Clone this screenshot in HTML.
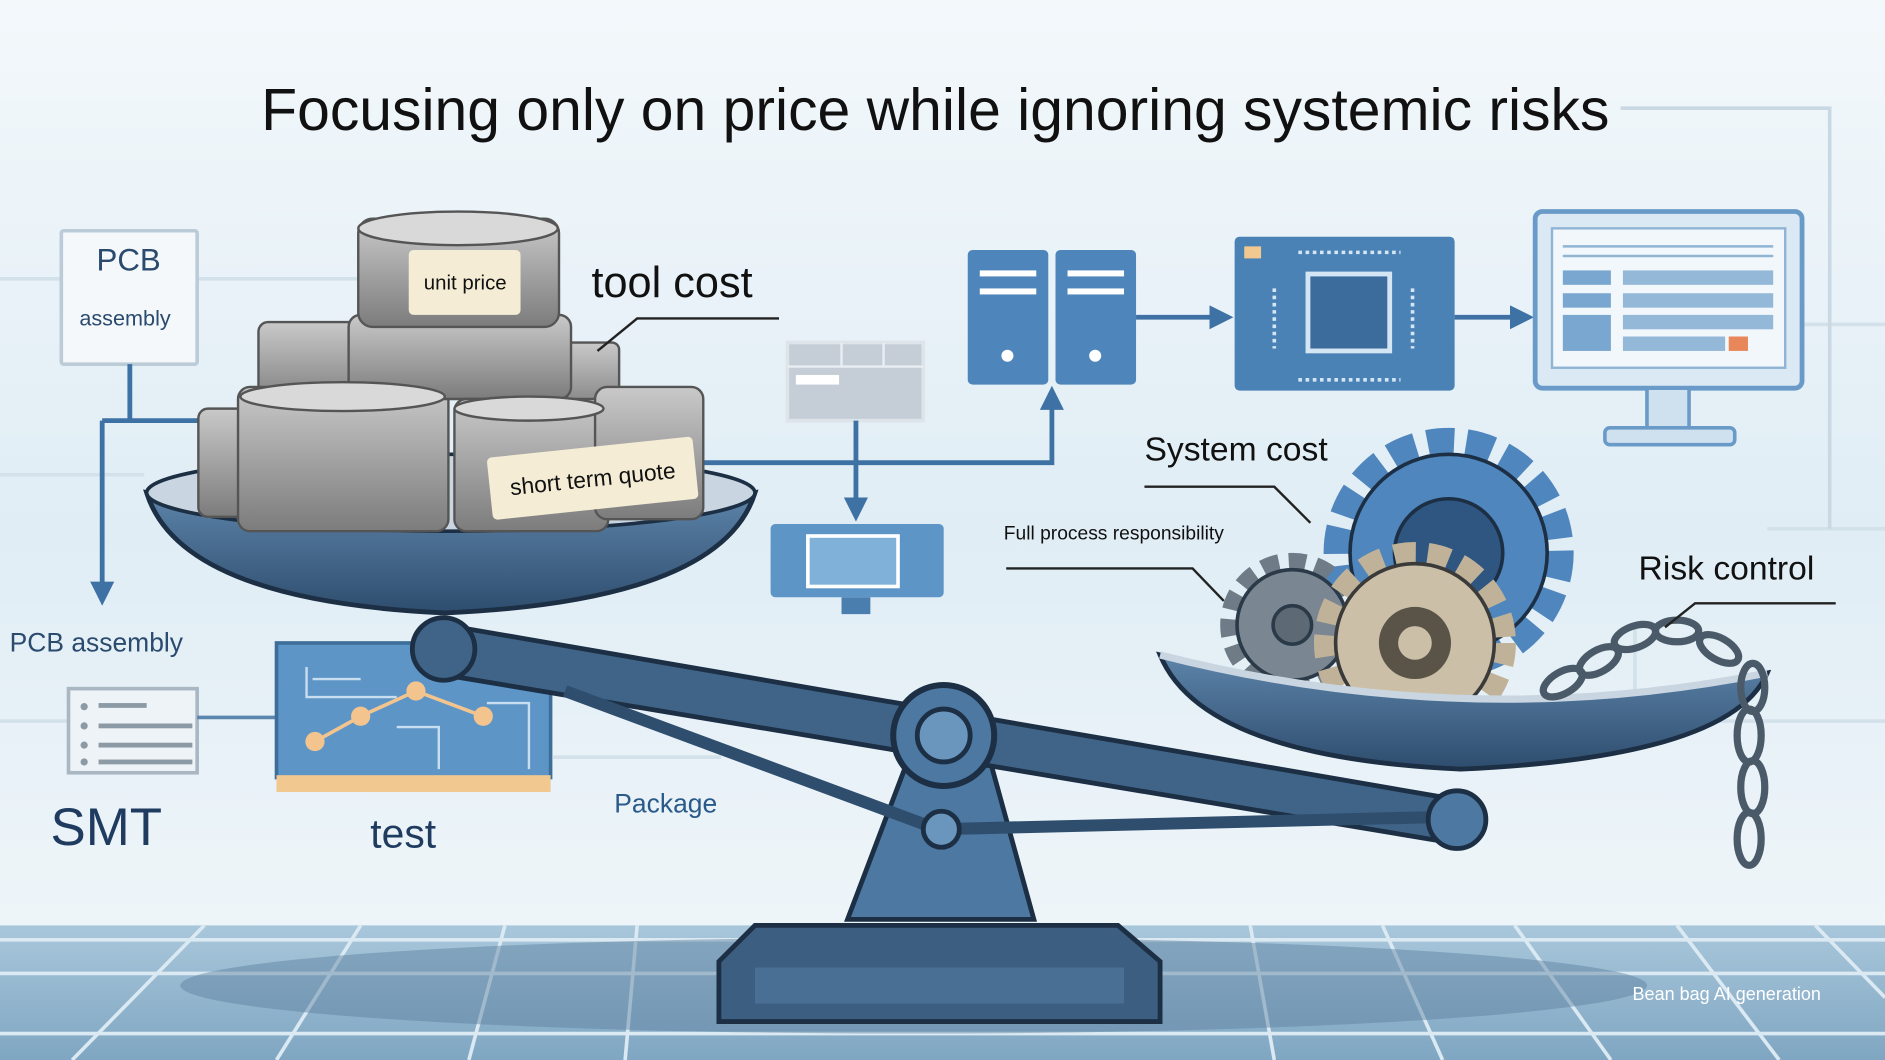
<!DOCTYPE html>
<html><head><meta charset="utf-8"><style>
html,body{margin:0;padding:0;width:1885px;height:1060px;overflow:hidden;background:#eaf3f8}
svg{display:block}
text{font-family:"Liberation Sans",sans-serif}
</style></head><body>
<svg width="1885" height="1060" viewBox="0 0 1568 882" preserveAspectRatio="none" xmlns="http://www.w3.org/2000/svg">
<defs>
<linearGradient id="bg" x1="0" y1="0" x2="0" y2="1">
<stop offset="0" stop-color="#f3f8fb"/><stop offset="0.5" stop-color="#e0edf5"/><stop offset="0.87" stop-color="#eef5f9"/></linearGradient>
<linearGradient id="floor" x1="0" y1="0" x2="0" y2="1">
<stop offset="0" stop-color="#a9c7db"/><stop offset="1" stop-color="#7fa6c2"/></linearGradient>
<linearGradient id="pan" x1="0" y1="0" x2="0" y2="1">
<stop offset="0" stop-color="#5d84aa"/><stop offset="1" stop-color="#2e4d6e"/></linearGradient>
<linearGradient id="blk" x1="0" y1="0" x2="0" y2="1">
<stop offset="0" stop-color="#c9c9c9"/><stop offset="1" stop-color="#7c7c7c"/></linearGradient>
<marker id="ar" viewBox="0 0 10 10" refX="8" refY="5" markerWidth="5" markerHeight="5" orient="auto"><path d="M0 0L10 5L0 10z" fill="#3f72a4"/></marker>
</defs>
<rect width="1568" height="882" fill="url(#bg)"/>
<g stroke="#d3e1ea" stroke-width="3" fill="none">
<path d="M0 232H50M164 232H300M0 395H120M1500 270H1568M1470 440H1568M0 600H60M460 630H600M1350 600H1568M1360 520V600"/>
</g>
<rect x="0" y="770" width="1568" height="112" fill="url(#floor)"/>
<g stroke="#dbe9f2" stroke-width="3">
<path d="M0 782H1568M0 810H1568M0 860H1568"/>
<path d="M170 770L60 882M300 770L230 882M420 770L390 882M530 770L520 882M1040 770L1060 882M1150 770L1200 882M1260 770L1340 882M1395 770L1480 882M1510 770L1568 830"/>
</g>
<ellipse cx="760" cy="820" rx="610" ry="40" fill="#5a7f9e" opacity="0.45"/>
<text x="778" y="108" font-size="49" text-anchor="middle" fill="#111">Focusing only on price while ignoring systemic risks</text>
<path d="M1348 90H1522V440" stroke="#c9d8e3" stroke-width="3" fill="none"/>
<rect x="51" y="192" width="113" height="111" fill="#f4f8fb" stroke="#bccbd8" stroke-width="3" rx="2"/>
<text x="107" y="225" font-size="26" text-anchor="middle" fill="#2a4a6e">PCB</text>
<text x="104" y="271" font-size="18" text-anchor="middle" fill="#2a4a6e">assembly</text>
<g stroke="#3f72a4" stroke-width="4" fill="none">
<path d="M108 303V350M85 350H168"/><path d="M85 350V500" marker-end="url(#ar)"/></g>
<text x="8" y="542" font-size="22" fill="#2a4a6e">PCB assembly</text>
<rect x="57" y="573" width="107" height="70" fill="#eef3f7" stroke="#a9b7c3" stroke-width="3"/>
<g fill="#8c9aa6"><circle cx="70" cy="588" r="3"/><circle cx="70" cy="604" r="3"/><circle cx="70" cy="620" r="3"/><circle cx="70" cy="634" r="3"/>
<rect x="82" y="585" width="40" height="4"/><rect x="82" y="602" width="78" height="4"/><rect x="82" y="618" width="78" height="4"/><rect x="82" y="632" width="78" height="4"/></g>
<path d="M164 597H232" stroke="#5b86ad" stroke-width="3"/>
<text x="42" y="703" font-size="44" fill="#1f3b5f">SMT</text>
<rect x="230" y="535" width="228" height="112" fill="#5d95c6" stroke="#3d6e9a" stroke-width="3"/>
<rect x="230" y="645" width="228" height="14" fill="#f1c890"/>
<g stroke="#c8def0" stroke-width="2" fill="none"><path d="M255 555V580H330M260 565H300M330 605H365V640M405 585H440V640"/></g>
<polyline points="262,617 300,596 346,575 402,596" stroke="#f3c48e" stroke-width="3" fill="none"/>
<g fill="#f3c48e"><circle cx="262" cy="617" r="8"/><circle cx="300" cy="596" r="8"/><circle cx="346" cy="575" r="8"/><circle cx="402" cy="596" r="8"/></g>
<text x="308" y="705" font-size="34" fill="#1f3b5f">test</text>
<text x="511" y="676" font-size="22" fill="#2a5a8a">Package</text>
<rect x="655" y="285" width="113" height="65" fill="#c5ced6" stroke="#dde4ea" stroke-width="3"/>
<path d="M655 305H768M700 285V305M735 285V305" stroke="#e8eef3" stroke-width="2"/>
<rect x="662" y="312" width="36" height="8" fill="#fff"/>
<path d="M712 350V430" stroke="#3f72a4" stroke-width="4" marker-end="url(#ar)"/>
<rect x="641" y="436" width="144" height="61" rx="4" fill="#5d95c6"/>
<rect x="672" y="446" width="75" height="42" fill="#7fb1d9" stroke="#fff" stroke-width="3"/>
<rect x="700" y="497" width="24" height="14" fill="#4a7eae"/>
<path d="M585 385H875V325" stroke="#3f72a4" stroke-width="4" fill="none" marker-end="url(#ar)"/>
<rect x="805" y="208" width="67" height="112" rx="4" fill="#4e86bb"/><rect x="878" y="208" width="67" height="112" rx="4" fill="#4e86bb"/>
<g fill="#fff"><rect x="815" y="225" width="47" height="5"/><rect x="815" y="240" width="47" height="5"/><rect x="888" y="225" width="47" height="5"/><rect x="888" y="240" width="47" height="5"/><circle cx="838" cy="296" r="5"/><circle cx="911" cy="296" r="5"/></g>
<path d="M945 264H1022" stroke="#3f72a4" stroke-width="4" marker-end="url(#ar)"/>
<rect x="1027" y="197" width="183" height="128" rx="4" fill="#4a82b6"/>
<rect x="1088" y="228" width="68" height="64" fill="#3c6c9b" stroke="#d4e5f3" stroke-width="4"/>
<g stroke="#d4e5f3" stroke-width="3"><path d="M1080 210H1165M1080 316H1165M1060 240V290M1175 240V290" stroke-dasharray="3 3"/></g>
<rect x="1035" y="205" width="14" height="10" fill="#f1c890"/>
<path d="M1210 264H1272" stroke="#3f72a4" stroke-width="4" marker-end="url(#ar)"/>
<rect x="1277" y="176" width="222" height="147" rx="6" fill="#dbe9f5" stroke="#6a9bc8" stroke-width="4"/>
<rect x="1291" y="190" width="194" height="116" fill="#f2f7fb" stroke="#8fb4d4" stroke-width="2"/>
<g fill="#7aa7cf"><rect x="1300" y="225" width="40" height="12"/><rect x="1300" y="244" width="40" height="12"/><rect x="1300" y="262" width="40" height="30"/>
<rect x="1350" y="225" width="125" height="12" opacity=".8"/><rect x="1350" y="244" width="125" height="12" opacity=".8"/><rect x="1350" y="262" width="125" height="12" opacity=".8"/><rect x="1350" y="280" width="85" height="12" opacity=".8"/></g>
<rect x="1438" y="280" width="16" height="12" fill="#e8885a"/>
<path d="M1300 205H1475M1300 213H1475" stroke="#8fb4d4" stroke-width="2"/>
<rect x="1370" y="323" width="35" height="35" fill="#cfe0ef" stroke="#6a9bc8" stroke-width="3"/>
<rect x="1335" y="356" width="108" height="14" rx="4" fill="#cfe0ef" stroke="#6a9bc8" stroke-width="3"/>
<path d="M598 850V800L628 770H930L965 800V850Z" fill="#3c5e80" stroke="#1c2f44" stroke-width="4"/>
<path d="M628 805H935V835H628Z" fill="#4a6f94"/>
<path d="M705 765L760 620H820L860 765Z" fill="#4c78a2" stroke="#1c2f44" stroke-width="4"/>
<path d="M370 520L1210 665L1200 700L360 560Z" fill="#3f6488" stroke="#1c2f44" stroke-width="4"/>
<path d="M470 575L780 690L1190 680" stroke="#2f4e6e" stroke-width="10" fill="none"/>
<circle cx="785" cy="612" r="42" fill="#4c78a2" stroke="#1c2f44" stroke-width="5"/>
<circle cx="785" cy="612" r="22" fill="#6a95bd" stroke="#1c2f44" stroke-width="4"/>
<circle cx="783" cy="690" r="15" fill="#6a95bd" stroke="#1c2f44" stroke-width="4"/>
<circle cx="1212" cy="682" r="24" fill="#4c78a2" stroke="#1c2f44" stroke-width="4"/>
<circle cx="369" cy="540" r="26" fill="#3f6488" stroke="#1c2f44" stroke-width="4"/>
<path d="M122 410Q370 470 628 410Q600 500 370 510Q150 500 122 410Z" fill="url(#pan)" stroke="#1c2f44" stroke-width="4"/>
<ellipse cx="375" cy="410" rx="253" ry="32" fill="#c9d6e1" stroke="#1c2f44" stroke-width="3"/>
<g stroke="#555" stroke-width="2">
<rect x="165" y="340" width="100" height="90" rx="8" fill="url(#blk)"/>
<rect x="215" y="268" width="90" height="70" rx="8" fill="url(#blk)"/>
<rect x="470" y="285" width="45" height="60" rx="6" fill="url(#blk)"/>
<rect x="198" y="322" width="175" height="120" rx="10" fill="url(#blk)"/>
<rect x="290" y="262" width="185" height="70" rx="10" fill="url(#blk)"/>
<rect x="298" y="182" width="167" height="90" rx="12" fill="url(#blk)"/>
<ellipse cx="381" cy="190" rx="83" ry="14" fill="#d9d9d9"/>
<rect x="378" y="332" width="128" height="110" rx="10" fill="url(#blk)"/>
<rect x="495" y="322" width="90" height="110" rx="10" fill="url(#blk)"/>
<ellipse cx="285" cy="330" rx="85" ry="12" fill="#d9d9d9"/>
<ellipse cx="440" cy="340" rx="62" ry="10" fill="#d9d9d9"/>
</g>
<rect x="340" y="208" width="93" height="54" rx="4" fill="#f4ecd5"/>
<text x="387" y="241" font-size="17" text-anchor="middle" fill="#111">unit price</text>
<g transform="rotate(-6 492 398)"><rect x="407" y="372" width="172" height="52" rx="4" fill="#f4ecd5"/>
<text x="493" y="405" font-size="19" text-anchor="middle" fill="#111">short term quote</text></g>
<text x="492" y="247" font-size="36" fill="#111">tool cost</text>
<path d="M497 292L530 265H648" stroke="#222" stroke-width="2" fill="none"/>
<circle cx="1205" cy="460" r="92" fill="none" stroke="#4f86bd" stroke-dasharray="22 10" stroke-width="24"/>
<circle cx="1205" cy="460" r="82" fill="#4f86bd" stroke="#1c2f44" stroke-width="3"/>
<circle cx="1205" cy="460" r="45" fill="#2f5680" stroke="#1c2f44" stroke-width="3"/>
<circle cx="1075" cy="520" r="52" fill="none" stroke="#6f7b87" stroke-dasharray="14 8" stroke-width="16"/>
<circle cx="1075" cy="520" r="46" fill="#7a8692" stroke="#2b3a48" stroke-width="3"/>
<circle cx="1075" cy="520" r="16" fill="#5d6a76" stroke="#2b3a48" stroke-width="3"/>
<circle cx="1177" cy="535" r="75" fill="none" stroke="#bfb298" stroke-dasharray="18 10" stroke-width="18"/>
<circle cx="1177" cy="535" r="66" fill="#cbbfa7" stroke="#3a3a3a" stroke-width="3"/>
<circle cx="1177" cy="535" r="30" fill="#5a5448"/><circle cx="1177" cy="535" r="14" fill="#cbbfa7"/>
<path d="M965 545Q1220 610 1470 560Q1440 630 1215 640Q1000 630 965 545Z" fill="url(#pan)" stroke="#1c2f44" stroke-width="4"/>
<path d="M965 545Q1220 610 1470 560" stroke="#c9d6e1" stroke-width="6" fill="none"/>
<g fill="none" stroke="#4a5a68" stroke-width="6">
<ellipse cx="1300" cy="568" rx="18" ry="9" transform="rotate(-30 1300 568)"/>
<ellipse cx="1330" cy="550" rx="18" ry="9" transform="rotate(-30 1330 550)"/>
<ellipse cx="1360" cy="530" rx="18" ry="9" transform="rotate(-20 1360 530)"/>
<ellipse cx="1395" cy="525" rx="18" ry="9"/>
<ellipse cx="1430" cy="540" rx="18" ry="9" transform="rotate(30 1430 540)"/>
<ellipse cx="1458" cy="572" rx="10" ry="20"/>
<ellipse cx="1455" cy="612" rx="10" ry="22"/>
<ellipse cx="1458" cy="655" rx="10" ry="22"/>
<ellipse cx="1455" cy="698" rx="10" ry="22"/>
</g>
<text x="952" y="383" font-size="28" fill="#111">System cost</text>
<path d="M952 405H1060L1090 435" stroke="#222" stroke-width="2" fill="none"/>
<text x="835" y="449" font-size="16" fill="#111">Full process responsibility</text>
<path d="M837 473H992L1018 500" stroke="#222" stroke-width="2" fill="none"/>
<text x="1363" y="482" font-size="28" fill="#111">Risk control</text>
<path d="M1527 502H1410L1385 522" stroke="#222" stroke-width="2" fill="none"/>
<text x="1358" y="832" font-size="15" fill="#fff">Bean bag AI generation</text>
</svg>
</body></html>
